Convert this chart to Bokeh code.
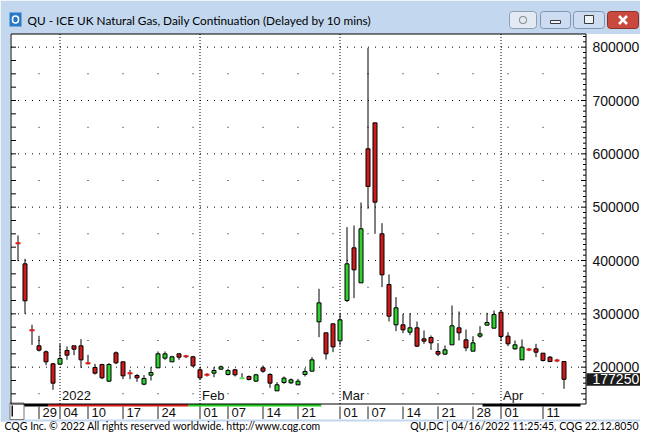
import datetime
from bokeh.plotting import figure
from bokeh.models import Range1d, BoxAnnotation, Label, ColumnDataSource, Arrow
from bokeh.core.properties import value
from bokeh.embed import file_html
from bokeh.resources import INLINE

# ---------------- data ----------------
dates = [
    "2021-12-22", "2021-12-23", "2021-12-24", "2021-12-29", "2021-12-30", "2021-12-31",
    "2022-01-04", "2022-01-05", "2022-01-06", "2022-01-07",
    "2022-01-10", "2022-01-11", "2022-01-12", "2022-01-13", "2022-01-14",
    "2022-01-17", "2022-01-18", "2022-01-19", "2022-01-20", "2022-01-21",
    "2022-01-24", "2022-01-25", "2022-01-26", "2022-01-27", "2022-01-28", "2022-01-31",
    "2022-02-01", "2022-02-02", "2022-02-03", "2022-02-04",
    "2022-02-07", "2022-02-08", "2022-02-09", "2022-02-10", "2022-02-11",
    "2022-02-14", "2022-02-15", "2022-02-16", "2022-02-17", "2022-02-18",
    "2022-02-21", "2022-02-22", "2022-02-23", "2022-02-24", "2022-02-25", "2022-02-28",
    "2022-03-01", "2022-03-02", "2022-03-03", "2022-03-04",
    "2022-03-07", "2022-03-08", "2022-03-09", "2022-03-10", "2022-03-11",
    "2022-03-14", "2022-03-15", "2022-03-16", "2022-03-17", "2022-03-18",
    "2022-03-21", "2022-03-22", "2022-03-23", "2022-03-24", "2022-03-25",
    "2022-03-28", "2022-03-29", "2022-03-30", "2022-03-31",
    "2022-04-01", "2022-04-04", "2022-04-05", "2022-04-06", "2022-04-07", "2022-04-08",
    "2022-04-11", "2022-04-12", "2022-04-13", "2022-04-14",
]
opens = [
    432500, 393750, 269500, 240000, 228800, 206250,
    205600, 231250, 240000, 240000,
    207750, 199400, 205000, 173750, 226900,
    210000, 189000, 184400, 168100, 185000,
    198750, 216900, 210000, 225000, 220800, 219400,
    195000, 185800, 188750, 196250,
    186250, 195000, 179200, 182500, 173750,
    198750, 186250, 155600, 171250, 170600,
    166900, 186250, 192500, 285000, 264400, 281250,
    249400, 325000, 423750, 358100,
    609400, 658100, 450000, 355000, 279400,
    279400, 265600, 273750, 253100, 255600,
    229400, 224400, 241900, 273750, 251250,
    230000, 258100, 278750, 273100,
    303100, 258100, 234400, 213750, 233300, 234400,
    226250, 218750, 212700, 210600,
]
highs = [
    447000, 403100, 279400, 258800, 231250, 207500,
    243750, 238750, 240000, 252500,
    223100, 206250, 206250, 207500, 229400,
    210000, 195000, 186900, 185000, 200000,
    229400, 229400, 221250, 226250, 223100, 221250,
    200000, 188750, 200000, 203100,
    196900, 196900, 188750, 184400, 187500,
    203100, 188750, 171900, 182500, 178750,
    178100, 198100, 218750, 346900, 264400, 281250,
    300000, 462500, 465600, 508750,
    798750, 658100, 470000, 373750, 331250,
    300000, 301250, 285600, 268750, 259400,
    245000, 240600, 315600, 304400, 270600,
    258100, 276900, 301900, 306250,
    307500, 265600, 250000, 251900, 236250, 243750,
    226250, 220600, 215600, 210600,
]
lows = [
    398700, 300000, 241900, 229400, 203750, 157500,
    204400, 213750, 222500, 198750,
    205000, 186250, 177500, 172500, 205600,
    177500, 177500, 172500, 166250, 175000,
    198750, 213750, 210000, 213750, 216900, 200000,
    176250, 182500, 181250, 195000,
    184400, 182500, 178750, 175000, 172500,
    189400, 161250, 155600, 168750, 168750,
    166900, 182500, 192500, 256250, 214400, 228100,
    240600, 321900, 329400, 358100,
    496900, 450000, 350000, 285600, 267500,
    263750, 260000, 237500, 243750, 232500,
    220600, 223100, 241900, 250000, 230000,
    230000, 255000, 278750, 273100,
    248750, 239400, 232500, 213750, 230000, 218750,
    210600, 209400, 209400, 159400,
]
closes = [
    432000, 324400, 269000, 231900, 210000, 170000,
    216250, 222500, 233750, 213750,
    207250, 188750, 180000, 205000, 208100,
    183750, 188500, 180000, 178750, 190000,
    225000, 225000, 219400, 218750, 220400, 202500,
    180000, 185400, 193750, 200600,
    193750, 185600, 179600, 176900, 185600,
    192500, 170000, 166900, 179400, 176250,
    173750, 191900, 213750, 320600, 225000, 238100,
    288750, 393750, 382500, 459400,
    538750, 509400, 373100, 295600, 311250,
    270000, 273750, 239400, 248750, 245600,
    224400, 232500, 277500, 264400, 236250,
    245600, 262500, 283750, 298750,
    257500, 243750, 241900, 237500, 232900, 228100,
    212500, 210600, 212300, 177250,
]

tick_dates = ["2021-12-29", "2022-01-04", "2022-01-10", "2022-01-17", "2022-01-24",
              "2022-02-01", "2022-02-07", "2022-02-14", "2022-02-21",
              "2022-03-01", "2022-03-07", "2022-03-14", "2022-03-21", "2022-03-28",
              "2022-04-01", "2022-04-11"]
tick_labels = ["29", "04", "10", "17", "24", "01", "07", "14", "21",
               "01", "07", "14", "21", "28", "01", "11"]
month_dates = ["2022-01-04", "2022-02-01", "2022-03-01", "2022-04-01"]
month_labels = ["2022", "Feb", "Mar", "Apr"]
price_labels = [200000, 300000, 400000, 500000, 600000, 700000, 800000]
last_price = 177250
contract_starts = ["2021-12-22", "2021-12-31", "2022-01-31", "2022-02-25", "2022-03-30"]
contract_colors = ["#000000", "#d01818", "#1fcc1f", "#ffffff", "#000000"]
contract_extra_days = 2

title_text = "QU - ICE UK Natural Gas, Daily Continuation (Delayed by 10 mins)"
footer_left = "CQG Inc. \u00a9 2022 All rights reserved worldwide. http://www.cqg.com"
footer_right = "QU,DC | 04/16/2022 11:25:45, CQG 22.12.8050"

# ---------------- geometry (pixel helpers) ----------------
W, H = 640, 432
STEP = 7.0            # pixels per trading day
X_FIRST = 17.5        # pixel x of first candle
PX_PER_100K = 53.333  # pixels per 100000
Y_400K = 260.0        # pixel y of 400000


def X(px):           # pixel x -> index coordinate
    return (px - X_FIRST) / STEP


def Y(py):           # pixel y (from top) -> price coordinate
    return 400000 + (Y_400K - py) * 100000 / PX_PER_100K


def sx(px):
    return px


def sy(py):
    return H - py


FL, FR, FT, FB = 10.5, 585.5, 33.5, 403.5   # chart frame (pixel)

idx_of = {d: i for i, d in enumerate(dates)}
xs = list(range(len(dates)))

p = figure(width=W, height=H, x_range=Range1d(X(0), X(W)), y_range=Range1d(Y(H), Y(0)),
           x_axis_type=None, y_axis_type=None, output_backend="svg",
           toolbar_location=None, min_border=0)
p.outline_line_color = None
p.background_fill_color = "white"
p.border_fill_color = "white"

BLUE = "#c3d8ef"


def box(x0, y0, x1, y1, fill, line=None, radius=0, lw=1, level="annotation"):
    p.add_layout(BoxAnnotation(left=sx(x0), right=sx(x1), top=sy(y0), bottom=sy(y1),
                               left_units="screen", right_units="screen",
                               top_units="screen", bottom_units="screen",
                               fill_color=fill, fill_alpha=1.0 if fill else 0.0,
                               line_color=line, line_alpha=1.0, line_width=lw,
                               border_radius=radius, level=level))


# ---------------- window chrome ----------------
box(0, 0, W, 33.5, BLUE, level="underlay")
box(0, 33, 9.5, 421, BLUE, level="underlay")
box(0, 419, W, 421, BLUE, level="underlay")

# app icon
box(9, 12, 21, 26, "#2a78c8")
box(12, 15.5, 18, 22.5, "#2a78c8", line="white", radius=3, lw=1.5)

# caption buttons
box(509, 11, 536, 28, "#e3eaf3", line="#8ea0b8", radius=3)
box(519, 16, 526, 23, "#e3eaf3", line="#7c7c7c", radius=3)
box(540, 11, 570, 28, "#cddcf0", line="#7f96b6", radius=3)
box(550, 20, 560, 23, "#eef3fa", line="#3a3a3a")
box(573, 11, 604, 28, "#cddcf0", line="#7f96b6", radius=3)
box(584, 15, 593, 23, "#eef3fa", line="#3a3a3a")
box(607, 11, 638, 28, "#c94a3c", line="#8a2f26", radius=3)
for (ax0, ay0, ax1, ay1) in [(618.5, 15.5, 626.5, 23.5), (618.5, 23.5, 626.5, 15.5)]:
    p.add_layout(Arrow(end=None, x_start=sx(ax0), y_start=sy(ay0), x_end=sx(ax1),
                       y_end=sy(ay1), start_units="screen", end_units="screen",
                       line_color="white", line_width=2.5))

# ---------------- grid ----------------
p.segment(x0=[X(FL)] * len(price_labels), y0=price_labels,
          x1=[X(FR)] * len(price_labels), y1=price_labels,
          line_color="black", line_width=1, line_dash="1 6", level="underlay")
month_idx = [idx_of[d] for d in month_dates]
p.segment(x0=month_idx, y0=[Y(FB)] * len(month_idx), x1=month_idx,
          y1=[Y(FT)] * len(month_idx), line_color="black", line_width=1,
          line_dash="1 2", level="underlay")

week_idx = []
for i in range(1, len(dates)):
    a = datetime.date.fromisoformat(dates[i - 1]).isocalendar()[1]
    b = datetime.date.fromisoformat(dates[i]).isocalendar()[1]
    if a != b and i not in month_idx:
        week_idx.append(i)
dot_levels = [lv - 50000 for lv in price_labels] + [price_labels[-1] - 50000]
dot_levels = sorted(set(v for v in dot_levels if v > Y(FB)))
dx, dy = [], []
for wi in week_idx:
    for lv in dot_levels:
        dx.append(wi)
        dy.append(lv)
p.rect(x=dx, y=dy, width=1, height=1, width_units="screen", height_units="screen",
       fill_color="black", line_color=None, level="underlay")

# ---------------- candles ----------------
is_doji = [abs(c - o) < 1000 for o, c in zip(opens, closes)]
RED, GREEN = "#cf1b1b", "#2fd02f"
body = dict(x=[], top=[], bottom=[], color=[])
doji = dict(x=[], y=[], color=[])
for i, (o, c) in enumerate(zip(opens, closes)):
    if is_doji[i]:
        doji["x"].append(i)
        doji["y"].append((o + c) / 2)
        doji["color"].append("#e01515" if c < o else "#5ee05e")
    else:
        body["x"].append(i)
        body["top"].append(max(o, c))
        body["bottom"].append(min(o, c))
        body["color"].append(GREEN if c > o else RED)

p.segment(x0=xs, y0=lows, x1=xs, y1=highs, line_color="black", line_width=1)
p.vbar(x="x", top="top", bottom="bottom", width=4 / STEP, fill_color="color",
       line_color="black", line_width=1, source=ColumnDataSource(body))
p.rect(x="x", y="y", width=5, height=2, width_units="screen", height_units="screen",
       fill_color="color", line_color=None, source=ColumnDataSource(doji))

# ---------------- price scale (right) & left ticks ----------------
maj = sorted(set(price_labels + [v - 50000 for v in price_labels]))
minor = [v for v in range(140000, 830000, 10000) if v not in maj]
p.segment(x0=[X(FR - 5)] * len(maj), y0=maj, x1=[X(FR)] * len(maj), y1=maj,
          line_color="black", line_width=1)
p.segment(x0=[X(FR - 3)] * len(minor), y0=minor, x1=[X(FR)] * len(minor), y1=minor,
          line_color="black", line_width=1)
left_ticks = [v for v in range(150000, 825000, 25000)]
p.segment(x0=[X(FL)] * len(left_ticks), y0=left_ticks, x1=[X(FL + 5)] * len(left_ticks),
          y1=left_ticks, line_color="black", line_width=1)

p.text(x=[X(592)] * len(price_labels), y=price_labels,
       text=[f"{v}" for v in price_labels], text_font=value("Liberation Sans"),
       text_font_size="14px", text_color="#111111", text_baseline="middle",
       text_align="left")

# last price marker
p.add_layout(BoxAnnotation(left=sx(586), right=sx(W),
                           top=last_price + 6 * 100000 / PX_PER_100K,
                           bottom=last_price - 6.5 * 100000 / PX_PER_100K,
                           left_units="screen", right_units="screen",
                           fill_color="#1c1c1c", fill_alpha=1.0, line_color=None))
p.add_layout(Label(x=sx(592), y=last_price, x_units="screen", y_units="data",
                   text=f"{last_price}", text_color="white", text_font="Liberation Sans",
                   text_font_size="14px", text_baseline="middle", text_align="left"))

# ---------------- time scale (bottom) ----------------
band_idx = [idx_of[d] for d in contract_starts] + [len(dates) + contract_extra_days]
p.quad(left=[b - 0.64 for b in band_idx[:-1]], right=[b - 0.64 for b in band_idx[1:]],
       top=[Y(403.5)] * len(contract_colors), bottom=[Y(406)] * len(contract_colors),
       fill_color=contract_colors, line_color=None)

tick_idx = [idx_of[d] for d in tick_dates]
p.segment(x0=tick_idx, y0=[Y(406)] * len(tick_idx), x1=tick_idx,
          y1=[Y(418.5)] * len(tick_idx), line_color="#222222", line_width=1)
p.text(x=tick_idx, y=[Y(412.3)] * len(tick_idx), text=tick_labels, x_offset=3.5,
       text_font=value("Liberation Sans"), text_font_size="13px", text_color="#111111",
       text_baseline="middle", text_align="left")

p.text(x=month_idx, y=[Y(395)] * len(month_idx), text=month_labels, x_offset=2,
       text_font=value("Liberation Sans"), text_font_size="13px", text_color="#111111",
       text_baseline="middle", text_align="left")

# scroll box bottom-left
box(9.5, 402.5, 23.5, 419, "white", line="#777777")
box(11, 405, 12.5, 416, "#111111")

# chart frame outline
box(FL, FT, FR, FB, None, line="black", lw=1)

# ---------------- texts ----------------
p.add_layout(Label(x=sx(27), y=sy(19.5), x_units="screen", y_units="screen",
                   text=title_text, text_font="Lato", text_font_size="11.8px",
                   text_color="#000000", text_baseline="middle", text_align="left"))
p.add_layout(Label(x=sx(4), y=sy(425.5), x_units="screen", y_units="screen",
                   text=footer_left, text_font="Lato", text_font_size="10.5px",
                   text_color="#000000", text_baseline="middle", text_align="left"))
p.add_layout(Label(x=sx(638), y=sy(425.5), x_units="screen", y_units="screen",
                   text=footer_right, text_font="Lato", text_font_size="10.5px",
                   text_color="#000000", text_baseline="middle", text_align="right"))

open("out.html", "w").write(file_html(p, INLINE))
